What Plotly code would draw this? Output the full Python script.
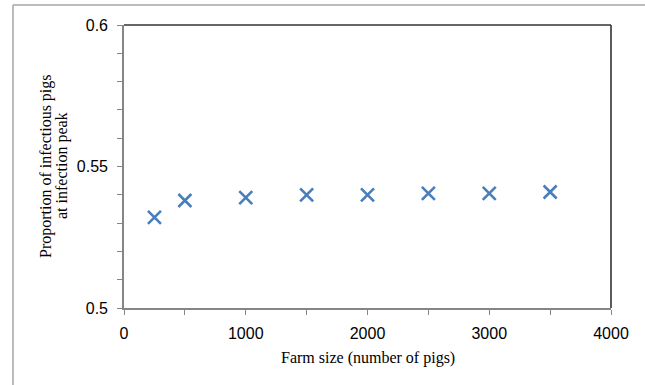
import plotly.graph_objects as go

# Farm size vs. proportion of infectious pigs at the infection peak
farm_size = [250, 500, 1000, 1500, 2000, 2500, 3000, 3500]
peak_prop = [0.532, 0.538, 0.539, 0.540, 0.540, 0.5405, 0.5405, 0.541]

y_ticks = [0.5, 0.55, 0.6]
y_tick_labels = ["0.5", "0.55", "0.6"]

x_title = "Farm size (number of pigs)"
y_title_lines = ["Proportion of infectious pigs", "at infection peak"]

W, H = 645, 385
L, R, T, B = 124, 34, 25, 77
pw, ph = W - L - R, H - T - B

def px_x(p):
    return (p - L) / pw

def px_y(p):
    return (H - B - p) / ph

axis_grey = "#868686"
tick_font = dict(family="Liberation Sans", size=16, color="#000000")
title_font = dict(family="Liberation Serif", size=16, color="#000000")

fig = go.Figure()
fig.add_trace(go.Scatter(
    x=farm_size, y=peak_prop, mode="markers",
    marker=dict(symbol="x-thin-open", size=13, color="#4A7EBB",
                line=dict(width=2.6, color="#4A7EBB")),
    showlegend=False, cliponaxis=False,
))

fig.update_xaxes(
    range=[0, 4000], dtick=1000, tick0=0,
    showgrid=False, zeroline=False,
    showline=True, linecolor=axis_grey, linewidth=1.6,
    ticks="outside", ticklen=5, tickcolor=axis_grey, tickwidth=1,
    minor=dict(dtick=500, ticks="outside", ticklen=5, tickcolor=axis_grey),
    tickfont=tick_font,
    ticklabelstandoff=5,
)
fig.update_yaxes(
    range=[0.5, 0.6], tickmode="array", tickvals=y_ticks, ticktext=y_tick_labels,
    showgrid=False, zeroline=False,
    showline=True, linecolor=axis_grey, linewidth=1.6,
    ticks="outside", ticklen=5, tickcolor=axis_grey, tickwidth=1,
    minor=dict(tickmode="linear", tick0=0.5, dtick=0.01, ticks="outside",
               ticklen=5, tickcolor=axis_grey),
    tickfont=tick_font,
    ticklabelstandoff=6,
)

shapes = [
    # top and right frame of the plot area
    dict(type="line", xref="paper", yref="paper", x0=0, x1=1, y0=1, y1=1,
         line=dict(color="#333333", width=1.6)),
    dict(type="line", xref="paper", yref="paper", x0=1, x1=1, y0=0, y1=1,
         line=dict(color="#333333", width=1.6)),
    # outer chart border
    dict(type="line", xref="paper", yref="paper",
         x0=px_x(13), x1=px_x(W + 10), y0=px_y(5), y1=px_y(5),
         line=dict(color="#A6A6A6", width=1.5)),
    dict(type="line", xref="paper", yref="paper",
         x0=px_x(13), x1=px_x(13), y0=px_y(5), y1=px_y(H + 10),
         line=dict(color="#A6A6A6", width=1.5)),
]

annotations = [
    dict(text=x_title, xref="paper", yref="paper",
         x=px_x(368), y=px_y(358), xanchor="center", yanchor="middle",
         showarrow=False, font=title_font),
]
for line_text, cx in zip(y_title_lines, [46, 62]):
    annotations.append(dict(
        text=line_text, xref="paper", yref="paper", textangle=-90,
        x=px_x(cx), y=px_y(166), xanchor="center", yanchor="middle",
        showarrow=False, font=title_font,
    ))

fig.update_layout(
    width=W, height=H,
    margin=dict(l=L, r=R, t=T, b=B, autoexpand=False),
    paper_bgcolor="white", plot_bgcolor="white",
    shapes=shapes, annotations=annotations,
)

fig.write_html("out.html")
